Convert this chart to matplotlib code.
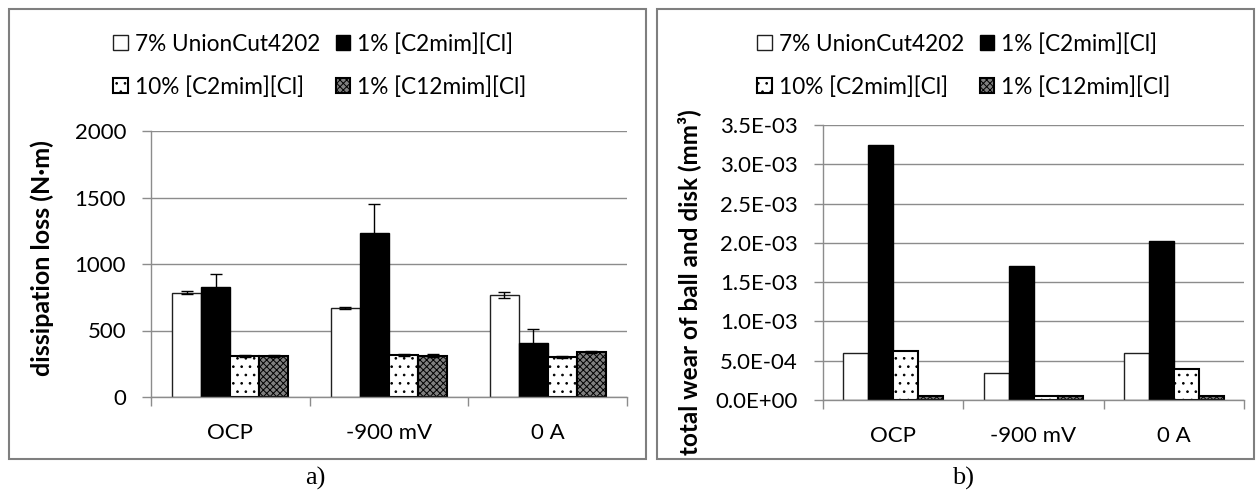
import matplotlib
matplotlib.use("Agg")
import matplotlib.pyplot as plt
import numpy as np
from matplotlib.patches import Rectangle

# ---------------- data ----------------
categories = ["OCP", "-900 mV", "0 A"]
series = ["7% UnionCut4202", "1% [C2mim][Cl]", "10% [C2mim][Cl]", "1% [C12mim][Cl]"]

# panel a: dissipation loss (N·m)
loss_uc7 = [785, 672, 768]
loss_c2_1 = [825, 1230, 405]
loss_c2_10 = [305, 316, 300]
loss_c12_1 = [308, 310, 338]
err_uc7 = [12, 7, 25]
err_c2_1 = [97, 220, 110]
err_c2_10 = [8, 4, 5]
err_c12_1 = [5, 10, 5]

# panel b: total wear of ball and disk (mm³)
wear_uc7 = [6.0e-4, 3.4e-4, 6.0e-4]
wear_c2_1 = [3.24e-3, 1.70e-3, 2.02e-3]
wear_c2_10 = [6.2e-4, 4.5e-5, 4.0e-4]
wear_c12_1 = [5.5e-5, 5.5e-5, 5.5e-5]

a_ticks = [0, 500, 1000, 1500, 2000]
b_ticks = [0, 0.5e-3, 1.0e-3, 1.5e-3, 2.0e-3, 2.5e-3, 3.0e-3, 3.5e-3]
b_ticklabels = ["0.0E+00", "5.0E-04", "1.0E-03", "1.5E-03", "2.0E-03",
                "2.5E-03", "3.0E-03", "3.5E-03"]

# ---------------- style ----------------
W, H = 1260, 493
plt.rcParams['font.family'] = ['Lato', 'DejaVu Sans']
plt.rcParams['hatch.linewidth'] = 0.7
FS = 16
LFS = 16.3
GRID = '#8c8c8c'

styles = [
    dict(facecolor='white', edgecolor='#202020', linewidth=1.0, hatch=None),
    dict(facecolor='black', edgecolor='black', linewidth=1.0, hatch=None),
    dict(facecolor='white', edgecolor='black', linewidth=1.5, hatch='..'),
    dict(facecolor='#808080', edgecolor='black', linewidth=1.5, hatch='xxxxx'),
]

fig = plt.figure(figsize=(W / 100, H / 100), dpi=100)


def px_axes(left, right, top, bottom):
    return fig.add_axes([left / W, (H - bottom) / H, (right - left) / W, (bottom - top) / H])


def style_axes(ax, ymax, yticks, yticklabels):
    ax.set_xlim(-0.5, 2.5)
    ax.set_ylim(0, ymax)
    ax.set_yticks(yticks)
    ax.set_yticklabels(yticklabels, fontsize=FS)
    ax.set_xticks(range(len(categories)))
    ax.set_xticklabels(categories, fontsize=FS)
    ax.set_xticks([-0.5, 0.5, 1.5, 2.5], minor=True)
    ax.tick_params(axis='x', which='major', length=0, pad=19)
    ax.tick_params(axis='x', which='minor', length=6.5, width=1, color=GRID, direction='out')
    ax.tick_params(axis='y', length=6.5, width=1, color=GRID, pad=11.5, direction='out')
    for s in ['top', 'right']:
        ax.spines[s].set_visible(False)
    for s in ['left', 'bottom']:
        ax.spines[s].set_color(GRID)
        ax.spines[s].set_linewidth(1)
    ax.yaxis.grid(True, color=GRID, linewidth=1)
    ax.set_axisbelow(True)


def draw_bars(ax, data, width, errs=None):
    x = np.arange(len(categories))
    handles = []
    for i, (vals, st) in enumerate(zip(data, styles)):
        pos = x + (i - 1.5) * width
        b = ax.bar(pos, vals, width=width, label=series[i], zorder=2, **st)
        handles.append(b)
        if errs is not None:
            ax.errorbar(pos, vals, yerr=errs[i], fmt='none', ecolor='black',
                        elinewidth=1, capsize=4, capthick=1, zorder=3)
    return handles


def add_legend(handles, xpx, ytop_px):
    order = [0, 2, 1, 3]
    leg = fig.legend([handles[i] for i in order], [series[i] for i in order],
                     loc='upper left', bbox_to_anchor=(xpx / W, (H - ytop_px) / H),
                     ncol=2, frameon=False, fontsize=LFS, borderpad=0, borderaxespad=0,
                     handlelength=0.65, handleheight=0.65, handletextpad=0.3,
                     columnspacing=0.7, labelspacing=0.95)
    return leg


# ---------------- panel a ----------------
axa = px_axes(151, 627, 131, 397)
style_axes(axa, 2000, a_ticks, [str(t) for t in a_ticks])
ha = draw_bars(axa, [loss_uc7, loss_c2_1, loss_c2_10, loss_c12_1], 0.183,
               errs=[err_uc7, err_c2_1, err_c2_10, err_c12_1])
axa.set_ylabel("dissipation loss (N·m)", fontsize=18, fontweight='bold')
axa.yaxis.set_label_coords(-0.229, 0.523)
axa.yaxis.label.set_va('center')
add_legend(ha, 113, 33)

# ---------------- panel b ----------------
axb = px_axes(823, 1244, 125, 400)
style_axes(axb, 3.5e-3, b_ticks, b_ticklabels)
hb = draw_bars(axb, [wear_uc7, wear_c2_1, wear_c2_10, wear_c12_1], 0.178)
axb.set_ylabel("total wear of ball and disk (mm³)", fontsize=17.5, fontweight='bold')
axb.yaxis.set_label_coords(-0.318, 0.429)
axb.yaxis.label.set_va('center')
add_legend(hb, 757, 33)

# ---------------- panel frames and captions ----------------
for (x0, x1) in [(9, 646), (657, 1254)]:
    fig.patches.append(Rectangle((x0 / W, (H - 459) / H), (x1 - x0) / W, (459 - 9) / H,
                                 transform=fig.transFigure, fill=False,
                                 edgecolor='#7f7f7f', linewidth=1.5))
fig.text(315 / W, (H - 478) / H, "a)", ha='center', va='center', fontsize=19,
         family=['Liberation Serif', 'DejaVu Serif'])
fig.text(963 / W, (H - 478) / H, "b)", ha='center', va='center', fontsize=19,
         family=['Liberation Serif', 'DejaVu Serif'])

fig.savefig("out.png", dpi=100)
